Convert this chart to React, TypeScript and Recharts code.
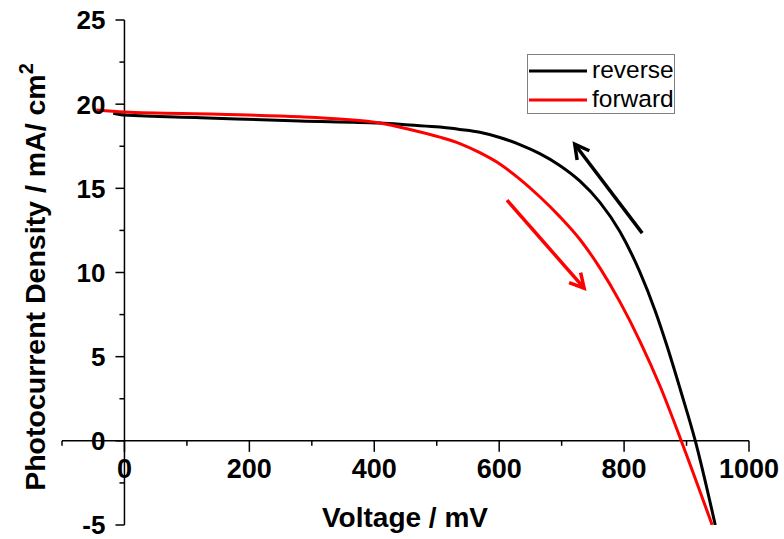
import React from 'react';
import { LineChart, Line, XAxis, YAxis, ReferenceLine, Legend } from 'recharts';

const W = 784;
const H = 539;
const Y_AXIS_W = 60;
const X_AXIS_H = 14;
const M = { top: 20, right: 35, bottom: 0, left: 2 };
const X_DOMAIN: [number, number] = [-100, 1000];
const Y_DOMAIN: [number, number] = [-5, 25];
const FONT = '"Liberation Sans", Arial, sans-serif';

// axis crossing point (origin) in pixels
const PLOT_L = M.left + Y_AXIS_W;
const PLOT_W = W - PLOT_L - M.right;
const PLOT_H = H - M.top - M.bottom - X_AXIS_H;
const ZERO_X = PLOT_L + (PLOT_W * (0 - X_DOMAIN[0])) / (X_DOMAIN[1] - X_DOMAIN[0]);
const ZERO_Y = M.top + (PLOT_H * Y_DOMAIN[1]) / (Y_DOMAIN[1] - Y_DOMAIN[0]);

const xTicks = [-100, 0, 100, 200, 300, 400, 500, 600, 700, 800, 900, 1000];
const yTicks = [-5, -2.5, 0, 2.5, 5, 7.5, 10, 12.5, 15, 17.5, 20, 22.5, 25];

// reverse scan
const reverseV = [-18, 0, 122, 281, 409, 457, 505, 537, 569, 601, 633, 665, 697, 729, 761, 793, 825, 850, 869, 890, 914, 946];
const reverseJ = [19.46, 19.35, 19.2, 19.0, 18.88, 18.76, 18.64, 18.5, 18.33, 18.02, 17.6, 17.06, 16.36, 15.44, 14.18, 12.45, 10.05, 7.7, 5.6, 3.05, 0, -5];

// forward scan
const forwardV = [-45, 0, 150, 281, 350, 409, 457, 505, 537, 569, 601, 633, 665, 697, 730, 762, 794, 826, 858, 891, 941];
const forwardJ = [19.65, 19.53, 19.4, 19.25, 19.1, 18.88, 18.5, 18.04, 17.66, 17.12, 16.45, 15.55, 14.5, 13.32, 11.93, 10.23, 8.21, 5.87, 3.21, 0.05, -5];

// scan direction arrows: [x1, y1, x2 (tip), y2 (tip)]
const reverseArrow = [829, 12.34, 721, 17.62];
const forwardArrow = [612.5, 14.3, 736, 9.07];

const legendOrder = ['reverse', 'forward'];

const reverseData = reverseV.map((v, i) => ({ v, j: reverseJ[i] }));
const forwardData = forwardV.map((v, i) => ({ v, j: forwardJ[i] }));

const XTick = (props: any) => {
  const { x, payload } = props;
  const v = payload.value;
  const major = v >= 0 && v % 200 === 0;
  return (
    <g>
      <line x1={x} x2={x} y1={ZERO_Y} y2={ZERO_Y + (major ? 11 : 5)} stroke="#000" strokeWidth={1.5} />
      {major && (
        <text x={x} y={ZERO_Y + 37} textAnchor="middle" fontFamily={FONT} fontWeight="bold" fontSize={27} fill="#000">
          {v}
        </text>
      )}
    </g>
  );
};

const YTick = (props: any) => {
  const { y, payload } = props;
  const v = payload.value;
  const major = v % 5 === 0;
  return (
    <g>
      <line x1={ZERO_X - (major ? 9 : 5)} x2={ZERO_X} y1={y} y2={y} stroke="#000" strokeWidth={1.5} />
      {major && (
        <text x={ZERO_X - 19} y={y} dy="0.36em" textAnchor="end" fontFamily={FONT} fontWeight="bold" fontSize={26} fill="#000">
          {v}
        </text>
      )}
    </g>
  );
};

const arrowShape = (color: string) => (props: any) => {
  const { x1, y1, x2, y2 } = props;
  const a = Math.atan2(y2 - y1, x2 - x1);
  const len = 16;
  const spread = 0.5;
  const p1 = [x2 - len * Math.cos(a - spread), y2 - len * Math.sin(a - spread)];
  const p2 = [x2 - len * Math.cos(a + spread), y2 - len * Math.sin(a + spread)];
  return (
    <g>
      <line x1={x1} y1={y1} x2={x2} y2={y2} stroke={color} strokeWidth={3.5} />
      <polyline points={`${p1[0]},${p1[1]} ${x2},${y2} ${p2[0]},${p2[1]}`} fill="none" stroke={color} strokeWidth={3.5} />
    </g>
  );
};

const LegendBox = (props: any) => {
  const items = [...(props.payload || [])].sort(
    (a: any, b: any) => legendOrder.indexOf(a.value) - legendOrder.indexOf(b.value)
  );
  return (
    <div
      style={{
        border: '1px solid #808080',
        width: 146,
        height: 57,
        background: '#fff',
        fontFamily: FONT,
        fontSize: 24.5,
        paddingTop: 1,
        boxSizing: 'content-box',
      }}
    >
      {items.map((p: any) => (
        <div key={p.value} style={{ display: 'flex', alignItems: 'center', height: 29 }}>
          <svg width={60} height={6} style={{ display: 'block', marginLeft: 1 }}>
            <line x1={0} x2={58} y1={3} y2={3} stroke={p.color} strokeWidth={3} />
          </svg>
          <span style={{ marginLeft: 3, lineHeight: 1, color: '#000' }}>{p.value}</span>
        </div>
      ))}
    </div>
  );
};

export default function App() {
  return (
    <div style={{ position: 'absolute', left: 0, top: 0, width: W, height: H, background: '#fff' }}>
      <LineChart width={W} height={H} margin={M}>
        <XAxis
          type="number"
          dataKey="v"
          domain={X_DOMAIN}
          ticks={xTicks}
          interval={0}
          height={X_AXIS_H}
          axisLine={false}
          tickLine={false}
          tick={(p: any) => <XTick {...p} />}
          allowDataOverflow
        />
        <YAxis
          type="number"
          domain={Y_DOMAIN}
          ticks={yTicks}
          interval={0}
          width={Y_AXIS_W}
          axisLine={false}
          tickLine={false}
          tick={(p: any) => <YTick {...p} />}
          allowDataOverflow
        />
        <ReferenceLine y={0} stroke="#000" strokeWidth={1.5} />
        <ReferenceLine x={0} stroke="#000" strokeWidth={1.5} />
        <Line
          data={reverseData}
          dataKey="j"
          name="reverse"
          type="monotone"
          stroke="#000"
          strokeWidth={3}
          dot={false}
          isAnimationActive={false}
        />
        <Line
          data={forwardData}
          dataKey="j"
          name="forward"
          type="monotone"
          stroke="#ff0000"
          strokeWidth={3}
          dot={false}
          isAnimationActive={false}
        />
        <ReferenceLine
          segment={[
            { x: reverseArrow[0], y: reverseArrow[1] },
            { x: reverseArrow[2], y: reverseArrow[3] },
          ]}
          shape={arrowShape('#000')}
        />
        <ReferenceLine
          segment={[
            { x: forwardArrow[0], y: forwardArrow[1] },
            { x: forwardArrow[2], y: forwardArrow[3] },
          ]}
          shape={arrowShape('#ff0000')}
        />
        <Legend
          layout="horizontal"
          verticalAlign="middle"
          align="center"
          content={<LegendBox />}
          wrapperStyle={{ left: 527, top: 54, width: 148, height: 59 }}
        />
        <text x={405} y={527} textAnchor="middle" fontFamily={FONT} fontWeight="bold" fontSize={28} fill="#000">
          Voltage / mV
        </text>
        <text
          x={45}
          y={277}
          transform="rotate(-90, 45, 277)"
          textAnchor="middle"
          fontFamily={FONT}
          fontWeight="bold"
          fontSize={28.5}
          fill="#000"
        >
          Photocurrent Density / mA/ cm
          <tspan dy={-12} fontSize={20}>2</tspan>
        </text>
      </LineChart>
    </div>
  );
}
